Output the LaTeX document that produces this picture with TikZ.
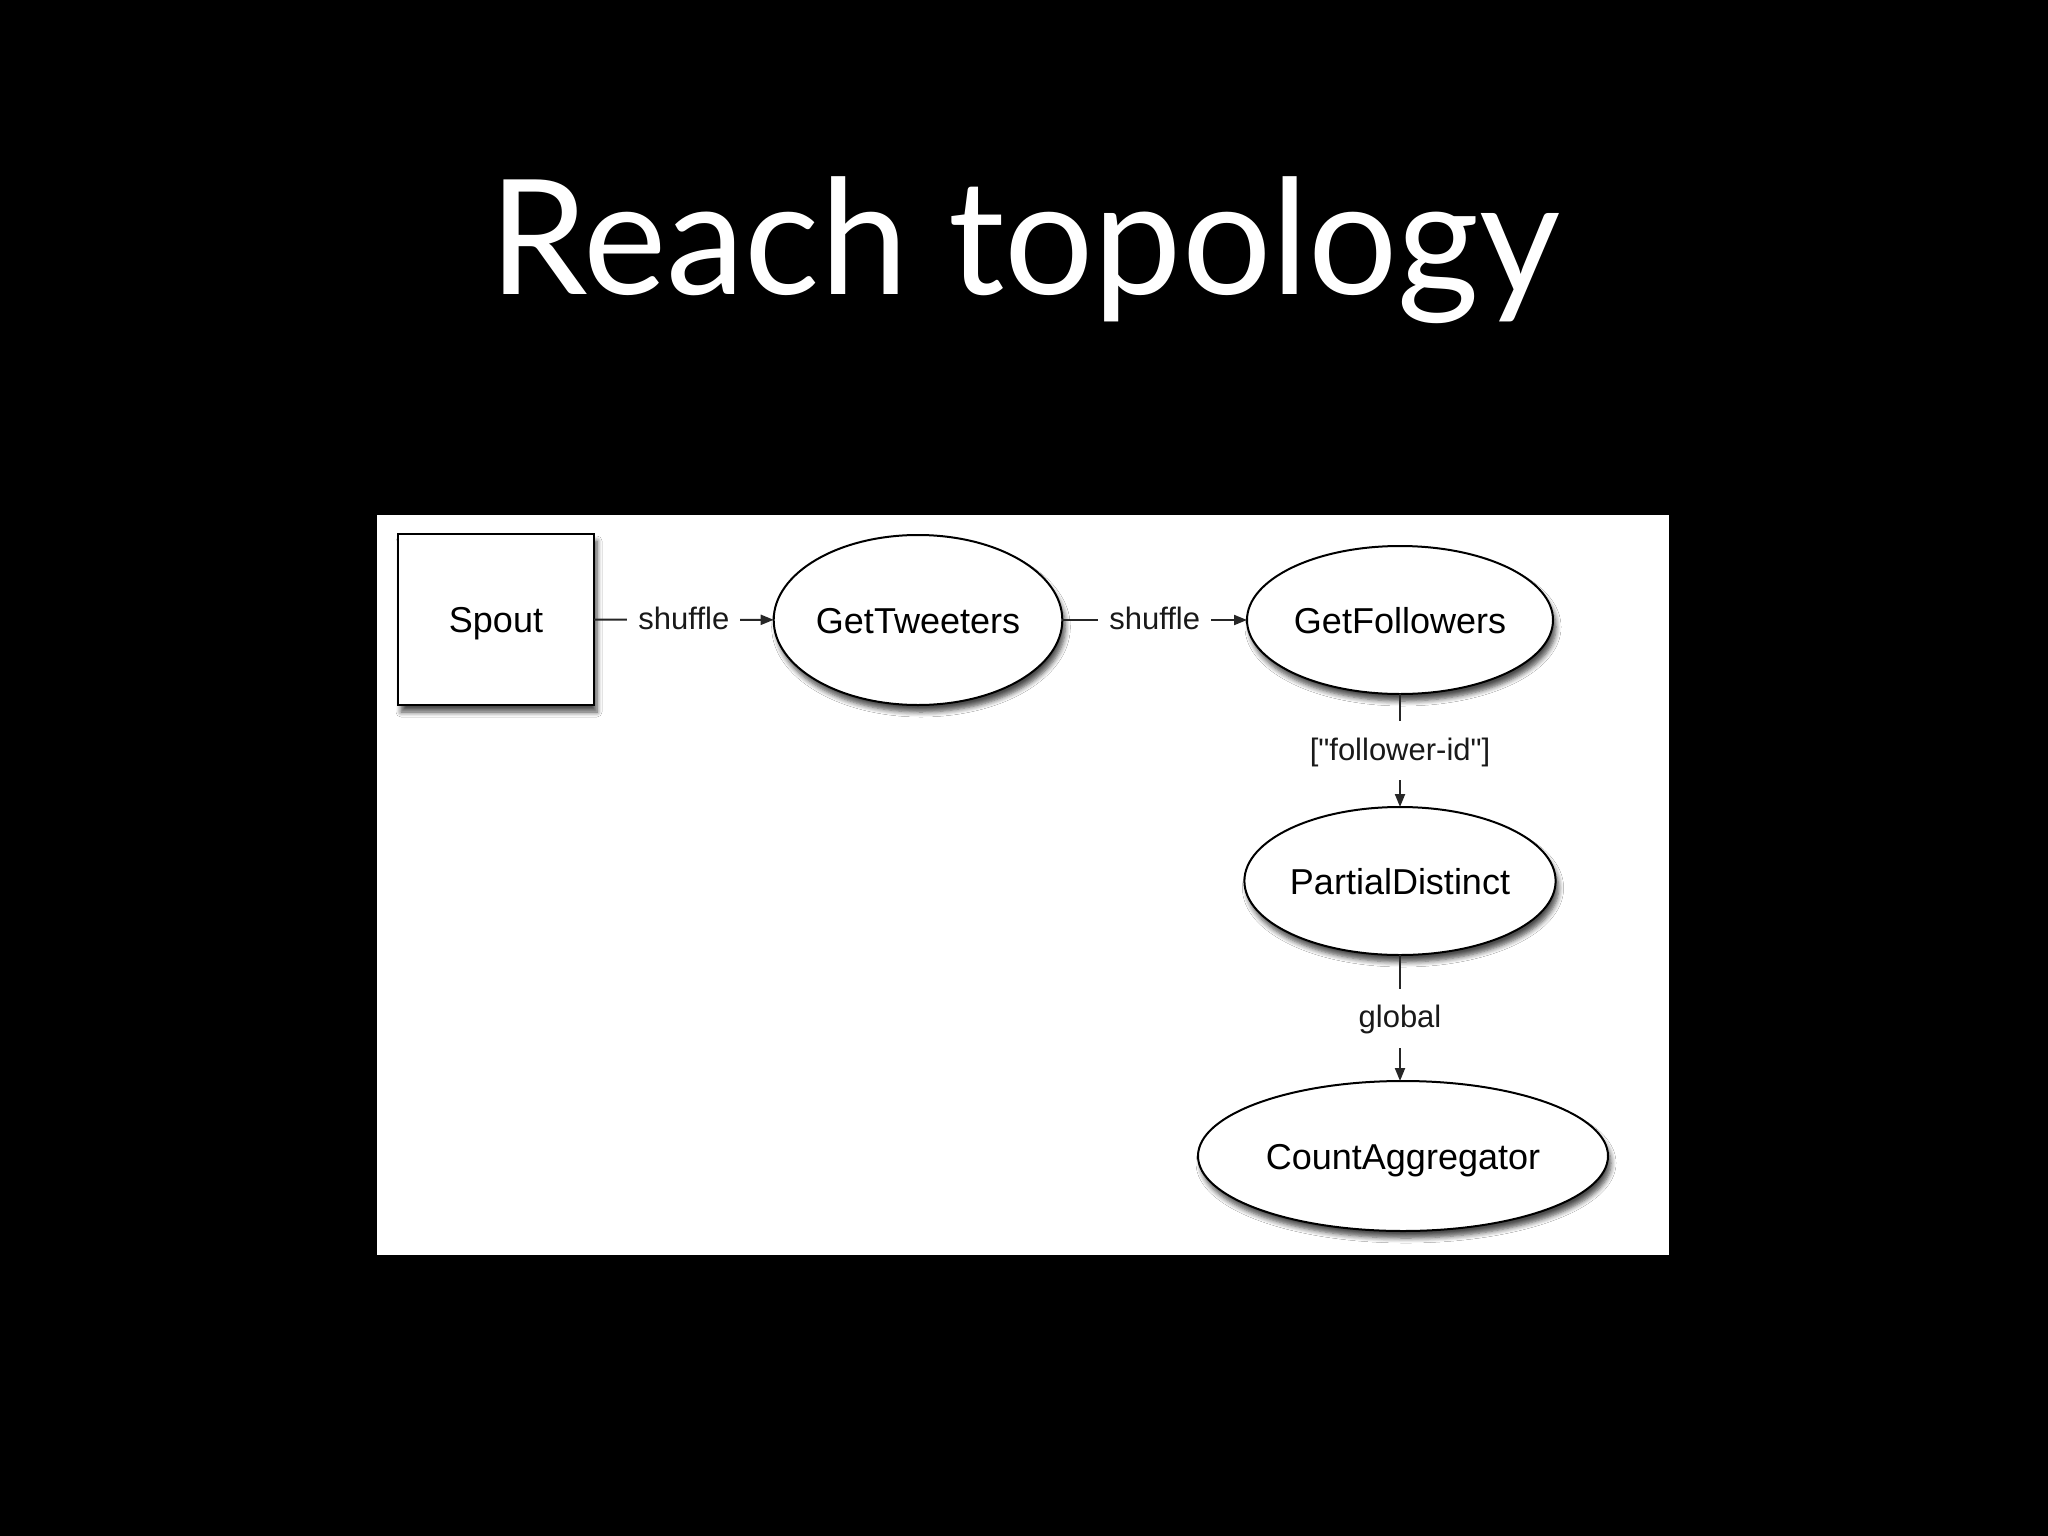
\documentclass[tikz,border=0pt]{standalone}
\usepackage{fontspec}
\newfontfamily\diagfont{Liberation Sans}
\newfontfamily\titlefont{Lato}
\usetikzlibrary{shapes.geometric,arrows.meta,shadows.blur}
\begin{document}
\begin{tikzpicture}[x=1pt,y=-1pt,
  nodeshadow/.style={blur shadow={shadow xshift=3pt,shadow yshift=-7pt,shadow blur steps=6,shadow blur radius=5pt,shadow opacity=70}},
  boxnode/.style={draw=black,line width=2pt,fill=white,rectangle,inner sep=0pt,outer sep=0pt,nodeshadow,text height=26pt,text depth=0pt,font=\diagfont\fontsize{36}{40}\selectfont},
  ellnode/.style={draw=black,line width=2pt,fill=white,ellipse,inner sep=0pt,outer sep=0pt,nodeshadow,text height=26pt,text depth=0pt,font=\diagfont\fontsize{36}{40}\selectfont},
  edgelabel/.style={fill=white,inner xsep=11pt,inner ysep=12pt,text height=27pt,text depth=8pt,font=\diagfont\fontsize{31}{36}\selectfont,text=black!90},
  conn/.style={draw=black!85,line width=2pt,-{Triangle[length=13pt,width=10pt]}}
]
\useasboundingbox (0,0) rectangle (2048,1536);
\fill[black] (0,0) rectangle (2048,1536);
\fill[white] (377,515) rectangle (1669,1255);
\node[anchor=base,text=white,xscale=0.985,font=\titlefont\fontsize{160}{190}\selectfont] (title) at (1025,294) {Reach topology};
\node[boxnode,minimum width=196pt,minimum height=171pt] (spout) at (496,619.5) {Spout};
\node[ellnode,minimum width=284pt,minimum height=170pt] (tweet) at (918,620) {GetTweeters};
\node[ellnode,minimum width=306pt,minimum height=148pt] (foll) at (1400,620) {GetFollowers};
\node[ellnode,minimum width=306pt,minimum height=148pt] (part) at (1400,881) {PartialDistinct};
\node[ellnode,minimum width=410pt,minimum height=150pt] (count) at (1403,1156) {CountAggregator};
\draw[conn] (spout) -- node[edgelabel] (l1) {shuffle} (tweet);
\draw[conn] (tweet) -- node[edgelabel] (l2) {shuffle} (foll);
\draw[conn] (foll.south) -- node[edgelabel] (l3) {["follower-id"]} (part.north);
\draw[conn] (part.south) -- node[edgelabel] (l4) {global} (part.south |- count.north);
\end{tikzpicture}
\end{document}
